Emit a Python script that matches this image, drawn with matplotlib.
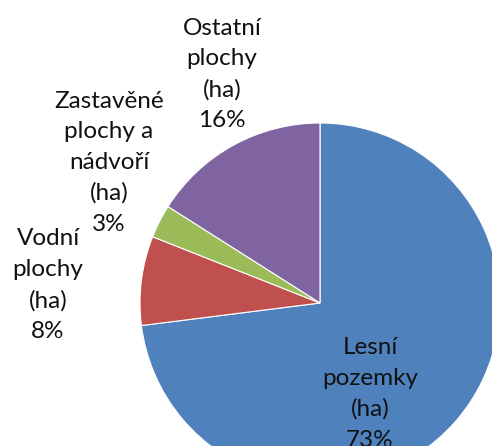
import matplotlib
matplotlib.use("Agg")
import matplotlib.pyplot as plt

plt.rcParams['font.family'] = ['Lato', 'DejaVu Sans']

# land use shares (%)
categories = ["Lesní pozemky (ha)", "Vodní plochy (ha)",
              "Zastavěné plochy a nádvoří (ha)", "Ostatní plochy (ha)"]
values = [73, 8, 3, 16]
colors = ["#4F81BD", "#C0504D", "#9BBB59", "#8064A2"]

label_text = ["Lesní\npozemky\n(ha)", "Vodní\nplochy\n(ha)",
              "Zastavěné\nplochy a\nnádvoří\n(ha)", "Ostatní\nplochy\n(ha)"]
# label centres in axes data units (pie radius = 1)
label_pos = [(0.278, -0.505), (-1.511, 0.1), (-1.172, 0.78), (-0.544, 1.27)]

fig = plt.figure(figsize=(4.92, 4.46), dpi=100)
ax = fig.add_axes([0, 0, 1, 1])

ax.pie(values, colors=colors, startangle=90, counterclock=False,
       wedgeprops=dict(edgecolor="white", linewidth=0.8))

total = sum(values)
for txt, v, (x, y) in zip(label_text, values, label_pos):
    ax.text(x, y, "%s\n%d%%" % (txt, round(100 * v / total)),
            ha="center", va="center", fontsize=17.5, linespacing=1.56,
            color="#111111")

ax.set_xlim(-320 / 180, 172 / 180)
ax.set_ylim(-143 / 180, 303 / 180)
ax.set_aspect("auto")
ax.axis("off")

fig.savefig("out.png", dpi=100)
